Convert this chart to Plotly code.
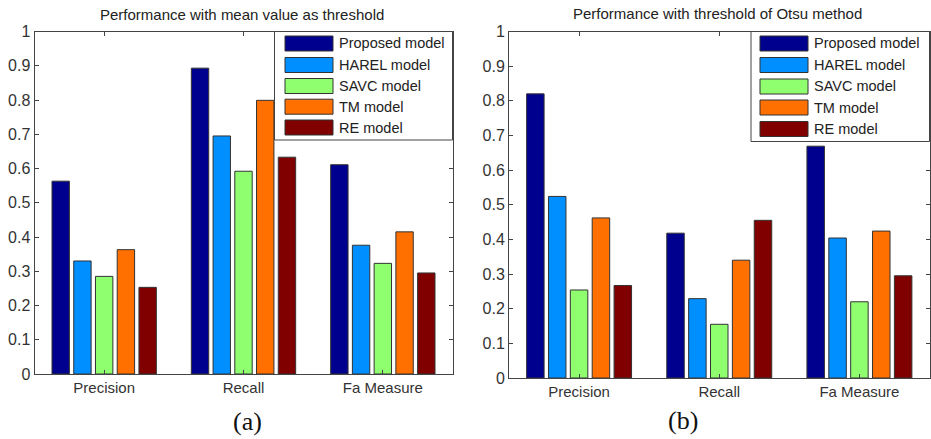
import plotly.graph_objects as go

W, H = 931, 439

categories = ["Precision", "Recall", "Fa Measure"]
models = ["Proposed model", "HAREL model", "SAVC model", "TM model", "RE model"]
colors = ["#00008F", "#008FFF", "#8FFF70", "#FF7000", "#800000"]

# (a) mean value as threshold
mean_proposed = [0.563, 0.893, 0.611]
mean_harel = [0.330, 0.695, 0.376]
mean_savc = [0.285, 0.592, 0.323]
mean_tm = [0.363, 0.799, 0.415]
mean_re = [0.253, 0.633, 0.295]

# (b) Otsu threshold
otsu_proposed = [0.820, 0.418, 0.669]
otsu_harel = [0.524, 0.229, 0.404]
otsu_savc = [0.254, 0.155, 0.220]
otsu_tm = [0.462, 0.340, 0.424]
otsu_re = [0.267, 0.455, 0.295]

titles = ["Performance with mean value as threshold", "Performance with threshold of Otsu method"]
captions = ["(a)", "(b)"]
yticks = [0, 0.1, 0.2, 0.3, 0.4, 0.5, 0.6, 0.7, 0.8, 0.9, 1]
yticktext = ["0", "0.1", "0.2", "0.3", "0.4", "0.5", "0.6", "0.7", "0.8", "0.9", "1"]

series_a = [mean_proposed, mean_harel, mean_savc, mean_tm, mean_re]
series_b = [otsu_proposed, otsu_harel, otsu_savc, otsu_tm, otsu_re]

FONT = "Liberation Sans, Arial, Helvetica, sans-serif"

def px_x(p):
    return p / W

def px_y(p):
    return 1 - p / H

fig = go.Figure()

for i, m in enumerate(models):
    fig.add_trace(go.Bar(x=categories, y=series_a[i], name=m, marker_color=colors[i],
                         marker_line_color="#333333", marker_line_width=1,
                         xaxis="x", yaxis="y", showlegend=False))
for i, m in enumerate(models):
    fig.add_trace(go.Bar(x=categories, y=series_b[i], name=m, marker_color=colors[i],
                         marker_line_color="#333333", marker_line_width=1,
                         xaxis="x2", yaxis="y2", showlegend=False))

axis_common = dict(showgrid=False, zeroline=False, showline=True, linecolor="#444444",
                   linewidth=1, mirror="ticks", ticks="inside", ticklen=4, automargin=False,
                   tickcolor="#444444", tickfont=dict(family=FONT, size=15, color="#333333"))
yaxis_font = dict(family=FONT, size=16, color="#333333")

domains = {
    "a": dict(x=[px_x(34.5), px_x(452.5)], y=[px_y(374), px_y(31.5)]),
    "b": dict(x=[px_x(509), px_x(929.5)], y=[px_y(378), px_y(31.5)]),
}

fig.update_layout(
    template="none",
    width=W, height=H, autosize=False, margin=dict(l=0, r=0, t=0, b=0, pad=0),
    paper_bgcolor="white", plot_bgcolor="white",
    barmode="group", bargap=0.22, bargroupgap=0.2,
    font=dict(family=FONT, size=15, color="#222222"),
    xaxis=dict(domain=domains["a"]["x"], anchor="y", range=[-0.5, 2.5], **axis_common),
    yaxis=dict(domain=domains["a"]["y"], anchor="x", range=[0, 1], tickvals=yticks,
               ticktext=yticktext, **axis_common),
    xaxis2=dict(domain=domains["b"]["x"], anchor="y2", range=[-0.5, 2.5], **axis_common),
    yaxis2=dict(domain=domains["b"]["y"], anchor="x2", range=[0, 1], tickvals=yticks,
                ticktext=yticktext, **axis_common),
)
fig.update_yaxes(tickfont=yaxis_font)

# titles and captions
title_pos = [(241.5, 15), (717.5, 14)]
caption_pos = [(247, 421), (683, 420)]
for k in range(2):
    fig.add_annotation(x=px_x(title_pos[k][0]), y=px_y(title_pos[k][1]), xref="paper", yref="paper",
                       text=titles[k], showarrow=False, xanchor="center", yanchor="middle",
                       font=dict(family=FONT, size=15, color="#222222"))
    fig.add_annotation(x=px_x(caption_pos[k][0]), y=px_y(caption_pos[k][1]), xref="paper", yref="paper",
                       text=captions[k], showarrow=False, xanchor="center", yanchor="middle",
                       font=dict(family="Liberation Serif, Times New Roman, serif", size=26, color="#111111"))

# legends drawn as boxes with swatches
legend_boxes = [
    dict(x0=274.5, x1=452.5, y0=31.5, y1=140, sx0=285, sx1=333, tx=337),
    dict(x0=751, x1=929.5, y0=31.5, y1=141.5, sx0=760, sx1=808, tx=812),
]
row_centers = [[43.5, 65, 86, 106.7, 127.5], [43.5, 65, 86.5, 107.5, 129]]
for k, lb in enumerate(legend_boxes):
    fig.add_shape(type="rect", xref="paper", yref="paper",
                  x0=px_x(lb["x0"]), x1=px_x(lb["x1"]), y0=px_y(lb["y1"]), y1=px_y(lb["y0"]),
                  line=dict(color="#444444", width=1), fillcolor="white", layer="above")
    for i, m in enumerate(models):
        yc = row_centers[k][i]
        fig.add_shape(type="rect", xref="paper", yref="paper",
                      x0=px_x(lb["sx0"]), x1=px_x(lb["sx1"]), y0=px_y(yc + 7.5), y1=px_y(yc - 7.5),
                      line=dict(color="#333333", width=1), fillcolor=colors[i], layer="above")
        fig.add_annotation(x=px_x(lb["tx"]), y=px_y(yc), xref="paper", yref="paper",
                           text=m, showarrow=False, xanchor="left", yanchor="middle",
                           font=dict(family=FONT, size=14.5, color="#222222"))

fig.write_html("out.html", config={"displayModeBar": False, "staticPlot": True},
               post_script="document.body.style.margin='0';document.body.style.overflow='hidden';")
